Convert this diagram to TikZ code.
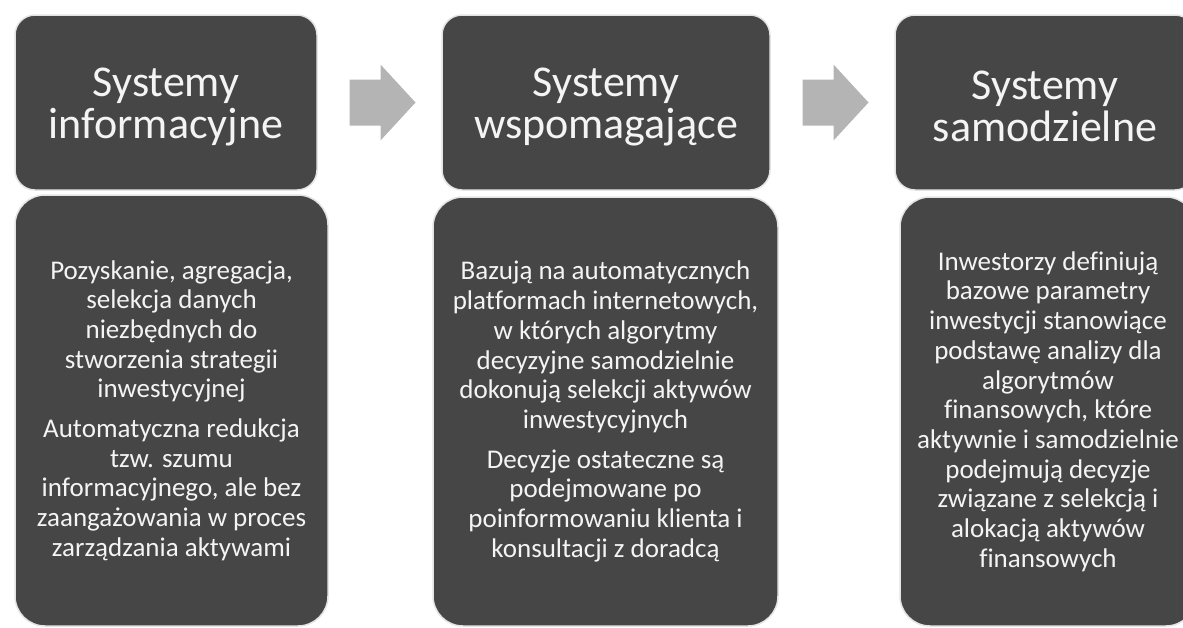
\documentclass[tikz,border=0pt]{standalone}
\usepackage{fontspec}
\setmainfont[Ligatures=NoCommon]{Carlito}
\usetikzlibrary{calc}
\definecolor{boxfill}{HTML}{464646}
\definecolor{boxline}{HTML}{E4E4E4}
\definecolor{arrowfill}{HTML}{B4B4B4}
\definecolor{txt}{HTML}{F4F4F4}
\newcommand{\hstrut}{\rule{0pt}{37pt}}
\tikzset{
  hbox/.style={draw=boxline, line width=1.5pt, fill=boxfill, rounded corners=20pt,
    text=txt, align=center, inner sep=0pt,
    font=\fontsize{44}{41.7}\selectfont},
  bbox/.style={draw=boxline, line width=1.5pt, fill=boxfill, rounded corners=30pt,
    text=txt, align=center, inner sep=0pt,
    font=\fontsize{27}{29.7}\selectfont},
  blockarrow/.style={fill=arrowfill}
}
\begin{document}
\begin{tikzpicture}[x=1pt,y=-1pt]
\useasboundingbox (0,0) rectangle (1183,627);
\clip (0,0) rectangle (1183,627);
% headers
\node[hbox, minimum width=302pt, minimum height=175pt] (h1) at (166,102.5)
  {\hstrut Systemy\\informacyjne};
\node[hbox, minimum width=328pt, minimum height=175pt] (h2) at (606,102.5)
  {\hstrut Systemy\\wspomagające};
\node[hbox, minimum width=300pt, minimum height=175pt] (h3) at (1045,102.5)
  {\hstrut Systemy\\samodzielne};
% bodies
\node[bbox, minimum width=313pt, minimum height=431pt] (b1) at (171.5,410.5)
  {Pozyskanie, agregacja,\\selekcja danych\\niezbędnych do\\stworzenia strategii\\inwestycyjnej\\[10pt]
   Automatyczna redukcja\\tzw. szumu\\informacyjnego, ale bez\\zaangażowania w proces\\zarządzania aktywami};
\node[bbox, minimum width=345pt, minimum height=429pt] (b2) at (605.5,411.5)
  {Bazują na automatycznych\\platformach internetowych,\\w których algorytmy\\decyzyjne samodzielnie\\dokonują selekcji aktywów\\inwestycyjnych\\[10pt]
   Decyzje ostateczne są\\podejmowane po\\poinformowaniu klienta i\\konsultacji z doradcą};
\node[bbox, minimum width=296pt, minimum height=429pt] (b3) at (1048,411.5)
  {Inwestorzy definiują\\bazowe parametry\\inwestycji stanowiące\\podstawę analizy dla\\algorytmów\\finansowych, które\\aktywnie i samodzielnie\\podejmują decyzje\\związane z selekcją i\\alokacją aktywów\\finansowych};
% block arrows between headers
\coordinate (a1) at ($($(h1.east)!0.5!(h2.west)$)+(3,0)$);
\coordinate (a2) at ($($(h2.east)!0.5!(h3.west)$)+(3,0)$);
\foreach \a in {a1,a2}{
  \fill[blockarrow, shift={(\a)}] (-33,-23) -- (-2,-23) -- (-2,-38) -- (33,0)
    -- (-2,38) -- (-2,23) -- (-33,23) -- cycle;
}
\end{tikzpicture}
\end{document}
